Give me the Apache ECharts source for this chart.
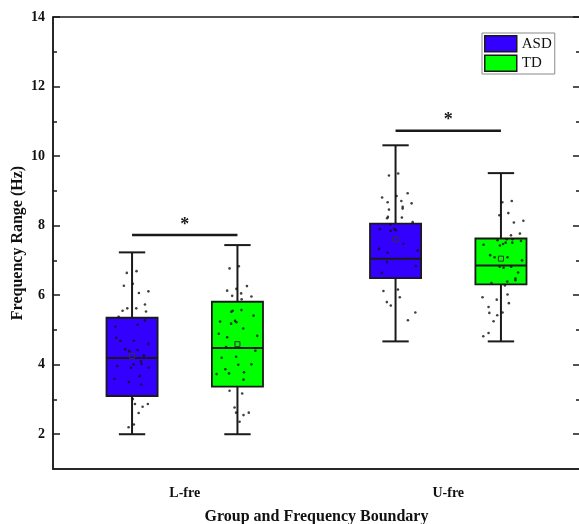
<!DOCTYPE html>
<html>
<head>
<meta charset="utf-8">
<script src="https://cdn.jsdelivr.net/npm/echarts@6/dist/echarts.min.js"></script>
<style>html,body{margin:0;padding:0;background:#fff;}#c{width:579px;height:524px;}</style>
</head>
<body>
<div id="c"></div>
<script>
// ---------- data ----------
const categories = ['L-fre', 'U-fre'];
const groupNames = ['ASD', 'TD'];
// [min, Q1, median, Q3, max] per category
const asdBox = [[2.00, 3.10, 4.19, 5.35, 7.23], [4.67, 6.49, 7.05, 8.06, 10.31]];
const tdBox  = [[2.00, 3.37, 4.48, 5.81, 7.44], [4.67, 6.31, 6.85, 7.63, 9.51]];
const asdMean = [4.25, 7.60];
const tdMean  = [4.59, 7.05];
const sigLevel = [7.73, 10.73];
const sigLabel = ['*', '*'];
const yMin = 1, yMax = 14;
const majorTicks = [2, 4, 6, 8, 10, 12, 14];
const minorTicks = [3, 5, 7, 9, 11, 13];

// raw points: values and horizontal jitter (x-axis units)
const asdLVals = [6.64,6.69,6.33,6.27,6.06,6.11,5.73,5.62,5.62,5.55,5.53,5.38,5.27,5.09,5.15,4.77,4.69,4.69,4.60,4.44,4.39,4.42,4.26,4.09,4.02,4.01,3.96,3.91,3.91,3.59,3.50,3.67,3.43,3.01,2.87,2.79,2.87,2.61,2.28,2.20];
const asdLJit  = [-0.020,0.017,0.003,-0.031,0.026,0.062,0.049,-0.018,0.016,-0.036,0.053,-0.051,0.049,-0.063,0.021,-0.060,-0.044,0.007,0.062,-0.026,-0.011,0.021,0.045,0.034,0.036,0.006,-0.056,-0.004,0.063,-0.067,-0.012,0.029,0.035,0.003,0.011,0.040,0.060,0.025,0.007,-0.013];
const tdLVals  = [6.77,6.83,6.18,6.13,6.26,6.05,5.96,5.88,5.98,5.55,5.52,5.57,5.24,5.26,5.22,5.18,5.41,5.04,4.89,4.83,4.79,4.51,4.40,4.20,4.23,4.01,4.00,3.87,3.75,3.78,3.73,3.57,3.25,3.17,2.77,2.62,2.62,2.55,2.36];
const tdLJit   = [-0.030,0.005,-0.004,-0.039,0.036,0.014,0.053,0.016,-0.020,-0.018,-0.023,0.015,-0.066,-0.009,-0.004,-0.024,0.061,0.022,-0.071,0.075,-0.039,-0.043,0.068,-0.060,-0.005,0.053,0.003,-0.046,-0.032,0.025,-0.079,0.023,-0.030,0.018,-0.011,0.043,-0.005,0.023,0.008];
const asdUVals = [9.44,9.50,8.81,8.85,8.93,8.67,8.71,8.64,8.46,8.54,8.49,8.25,8.21,8.23,8.10,8.03,7.90,7.85,7.90,7.87,7.48,7.33,7.28,7.22,6.95,6.84,6.64,6.16,6.12,5.94,5.80,5.70,5.50,5.28];
const asdUJit  = [-0.025,0.010,-0.051,0.004,0.046,-0.030,0.022,0.061,-0.025,0.027,0.027,-0.029,-0.032,0.024,0.065,-0.019,-0.060,-0.019,-0.004,0.001,0.030,-0.063,0.084,-0.030,-0.032,0.077,-0.052,0.009,-0.046,0.016,-0.033,-0.018,0.075,0.047];
const tdUVals  = [8.67,8.71,8.36,8.30,8.09,8.14,7.72,7.77,7.58,7.61,7.61,7.56,7.45,7.43,7.47,7.51,7.51,7.15,7.09,7.09,7.00,6.82,6.79,6.82,6.65,6.48,6.43,6.39,6.35,6.28,5.94,5.87,6.02,5.77,5.66,5.49,5.42,5.50,5.25,4.91,4.82];
const tdUJit   = [0.005,0.041,0.028,-0.006,0.049,0.085,0.038,0.072,-0.013,0.022,0.044,0.076,-0.066,-0.004,0.008,0.018,0.043,-0.041,-0.024,0.025,0.080,-0.005,0.010,0.039,0.065,0.055,0.055,0.024,-0.036,0.015,-0.070,-0.016,0.025,0.030,-0.047,-0.044,-0.014,0.006,-0.028,-0.047,-0.067];

// ---------- layout / style ----------
const colors = ['#3300ff', '#00ff00'];
const groupOffset = [-0.2, 0.2];
const boxW = 0.194, capW = 0.1;
const SERIF = '"Liberation Serif", "Times New Roman", serif';
const ink = '#1a1a1a';

const boxes = [asdBox, tdBox];
const means = [asdMean, tdMean];

function centerX(ci, gi) { return ci + 0.5 + groupOffset[gi]; }

function boxRenderer(gi) {
  return function (params, api) {
    const ci = api.value(0);
    const s = boxes[gi][ci];
    const cx = centerX(ci, gi);
    const pMin = api.coord([cx, s[0]]);
    const pQ1 = api.coord([cx, s[1]]);
    const pMed = api.coord([cx, s[2]]);
    const pQ3 = api.coord([cx, s[3]]);
    const pMax = api.coord([cx, s[4]]);
    const hw = api.size([boxW, 0])[0] / 2;
    const hc = api.size([capW, 0])[0] / 2;
    const x = pMed[0];
    const ls = { stroke: ink, lineWidth: 2 };
    return {
      type: 'group',
      children: [
        { type: 'line', shape: { x1: x, y1: pMax[1], x2: x, y2: pQ3[1] }, style: ls },
        { type: 'line', shape: { x1: x, y1: pQ1[1], x2: x, y2: pMin[1] }, style: ls },
        { type: 'line', shape: { x1: x - hc, y1: pMax[1], x2: x + hc, y2: pMax[1] }, style: ls },
        { type: 'line', shape: { x1: x - hc, y1: pMin[1], x2: x + hc, y2: pMin[1] }, style: ls },
        { type: 'rect', shape: { x: x - hw, y: pQ3[1], width: 2 * hw, height: pQ1[1] - pQ3[1] },
          style: { fill: colors[gi], stroke: ink, lineWidth: 1.8 } },
        { type: 'line', shape: { x1: x - hw, y1: pMed[1], x2: x + hw, y2: pMed[1] }, style: ls }
      ]
    };
  };
}

function meanRenderer(params, api) {
  const ci = api.value(0), gi = api.value(1);
  const p = api.coord([centerX(ci, gi), means[gi][ci]]);
  return { type: 'rect', shape: { x: p[0] - 2.5, y: p[1] - 2.5, width: 5, height: 5 },
           style: { fill: 'none', stroke: '#333', lineWidth: 1 } };
}

function sigRenderer(params, api) {
  const ci = api.value(0);
  const a = api.coord([centerX(ci, 0), sigLevel[ci]]);
  const b = api.coord([centerX(ci, 1), sigLevel[ci]]);
  return {
    type: 'group',
    children: [
      { type: 'line', shape: { x1: a[0], y1: a[1], x2: b[0], y2: b[1] }, style: { stroke: ink, lineWidth: 2.5 } },
      { type: 'text', style: { text: sigLabel[ci], x: (a[0] + b[0]) / 2, y: a[1] - 1,
          align: 'center', verticalAlign: 'bottom', font: 'bold 18px ' + SERIF, fill: ink } }
    ]
  };
}

function pts(ci, gi, vals, jit) {
  return vals.map((v, i) => [centerX(ci, gi) + jit[i], v]);
}

function yAxisDef(pos, ticks, len, extra) {
  return Object.assign({
    type: 'value', min: yMin, max: yMax, position: pos,
    axisLine: { show: false },
    axisTick: { show: true, inside: true, length: len, customValues: ticks, lineStyle: { color: ink, width: 1.5 } },
    axisLabel: { show: false },
    splitLine: { show: false }
  }, extra || {});
}

const chart = echarts.init(document.getElementById('c'), null, { renderer: 'canvas' });
const scatterStyle = { color: '#111' };
chart.setOption({
  animation: false,
  backgroundColor: '#fff',
  grid: { left: 53, right: -1, top: 17, bottom: 55, containLabel: false, outerBoundsMode: 'none',
          show: true, borderColor: ink, borderWidth: 1.5, backgroundColor: 'transparent' },
  legend: {
    left: 482, top: 33, orient: 'vertical', selectedMode: false,
    padding: [2, 3, 2, 2], itemGap: 2, itemWidth: 32, itemHeight: 16,
    borderColor: '#8a8a8a', borderWidth: 1, backgroundColor: '#fff',
    textStyle: { fontFamily: SERIF, fontSize: 15, color: '#111' },
    data: groupNames.map((n, i) => ({ name: n, icon: 'rect', itemStyle: { color: colors[i], borderColor: ink, borderWidth: 1.5 } }))
  },
  xAxis: [
    {
      type: 'category', data: categories, position: 'bottom', boundaryGap: true,
      axisLine: { lineStyle: { color: ink, width: 1.5 } },
      axisTick: { alignWithLabel: true, length: 5, lineStyle: { color: ink, width: 1.5 } },
      axisLabel: { margin: 17, fontFamily: SERIF, fontWeight: 'bold', fontSize: 14, color: '#111' },
      name: 'Group and Frequency Boundary', nameLocation: 'middle', nameGap: 40, nameMoveOverlap: false,
      nameTextStyle: { fontFamily: SERIF, fontWeight: 'bold', fontSize: 16, color: '#111' },
      splitLine: { show: false }
    },
    { type: 'value', min: 0, max: 2, show: false, position: 'top' }
  ],
  yAxis: [
    yAxisDef('left', majorTicks, 7, {
      axisLine: { show: true, lineStyle: { color: ink, width: 1.5 } },
      axisLabel: { show: true, customValues: majorTicks, margin: 8, fontFamily: SERIF, fontWeight: 'bold', fontSize: 14, color: '#111' },
      name: 'Frequency Range (Hz)', nameLocation: 'middle', nameGap: 27, nameMoveOverlap: false,
      nameTextStyle: { fontFamily: SERIF, fontWeight: 'bold', fontSize: 16, color: '#111' }
    }),
    yAxisDef('left', minorTicks, 4),
    yAxisDef('right', majorTicks, 7),
    yAxisDef('right', minorTicks, 4)
  ],
  series: [
    { name: 'ASD', type: 'custom', xAxisIndex: 1, yAxisIndex: 0, itemStyle: { color: colors[0] },
      renderItem: boxRenderer(0), data: categories.map((c, i) => [i]) },
    { name: 'TD', type: 'custom', xAxisIndex: 1, yAxisIndex: 0, itemStyle: { color: colors[1] },
      renderItem: boxRenderer(1), data: categories.map((c, i) => [i]) },
    { name: 'ASD points L', type: 'scatter', xAxisIndex: 1, yAxisIndex: 0, symbol: 'circle', symbolSize: 2.6, itemStyle: scatterStyle, data: pts(0, 0, asdLVals, asdLJit) },
    { name: 'TD points L', type: 'scatter', xAxisIndex: 1, yAxisIndex: 0, symbol: 'circle', symbolSize: 2.6, itemStyle: scatterStyle, data: pts(0, 1, tdLVals, tdLJit) },
    { name: 'ASD points U', type: 'scatter', xAxisIndex: 1, yAxisIndex: 0, symbol: 'circle', symbolSize: 2.6, itemStyle: scatterStyle, data: pts(1, 0, asdUVals, asdUJit) },
    { name: 'TD points U', type: 'scatter', xAxisIndex: 1, yAxisIndex: 0, symbol: 'circle', symbolSize: 2.6, itemStyle: scatterStyle, data: pts(1, 1, tdUVals, tdUJit) },
    { name: 'means', type: 'custom', xAxisIndex: 1, yAxisIndex: 0, renderItem: meanRenderer,
      data: [[0, 0], [0, 1], [1, 0], [1, 1]] },
    { name: 'significance', type: 'custom', xAxisIndex: 1, yAxisIndex: 0, renderItem: sigRenderer,
      data: categories.map((c, i) => [i]) }
  ]
});
</script>
</body>
</html>
